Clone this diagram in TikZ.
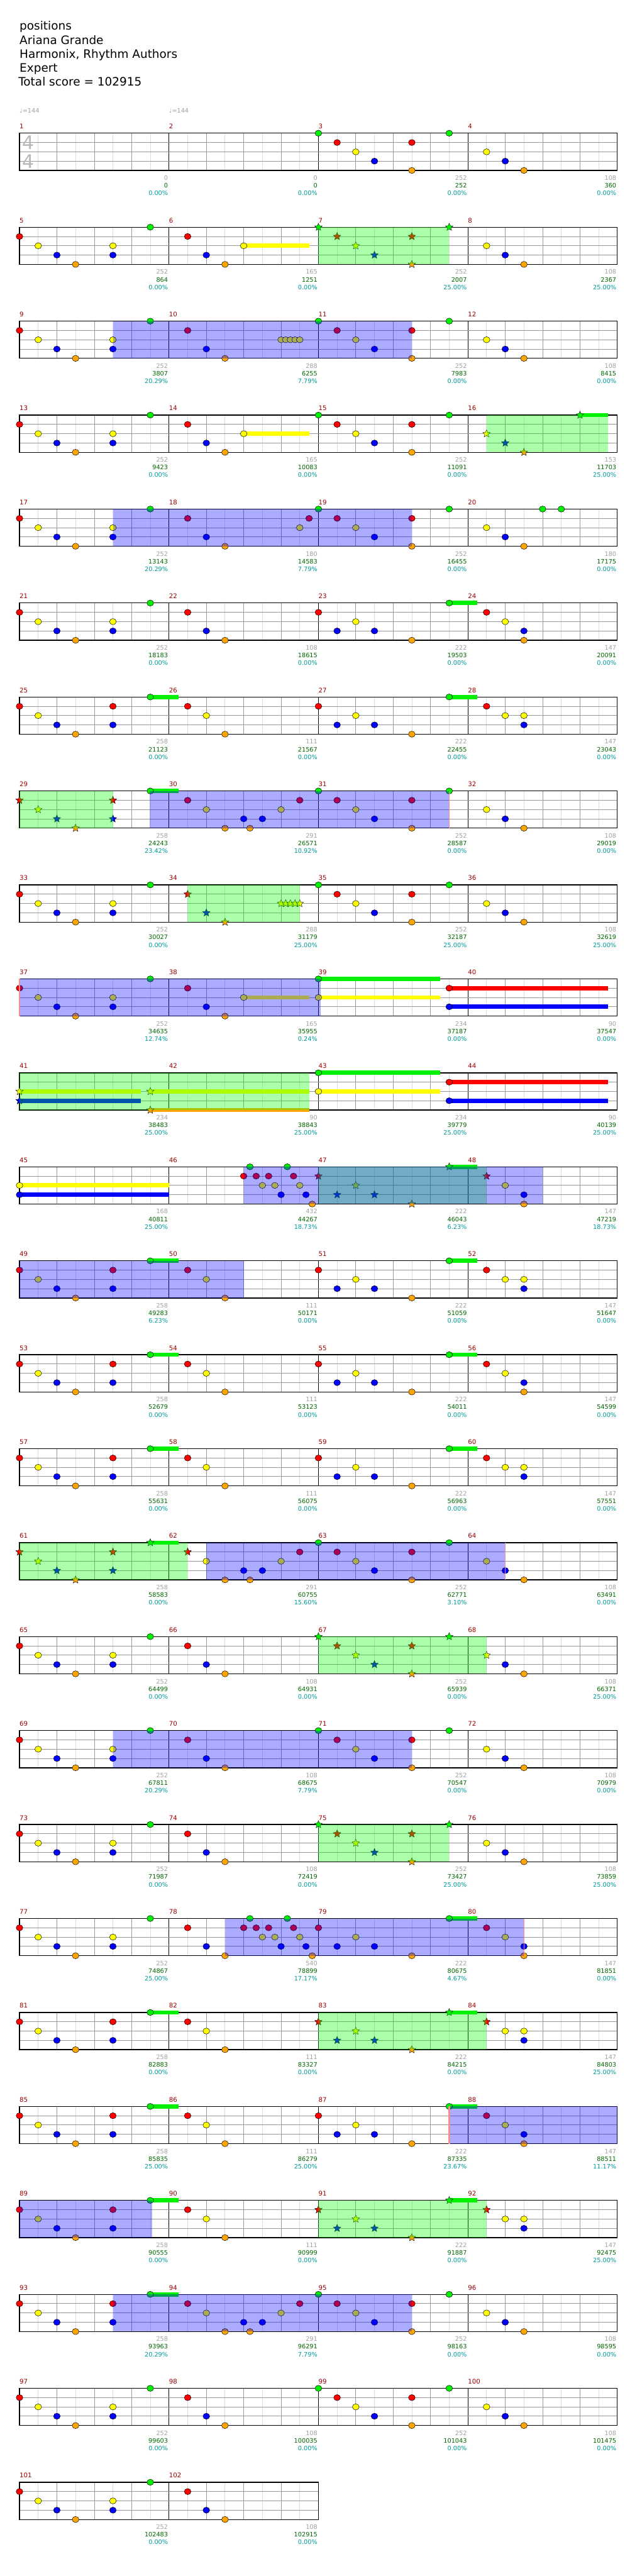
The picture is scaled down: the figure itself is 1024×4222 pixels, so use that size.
\documentclass[tikz,border=0pt]{standalone}
\usepackage{fontspec}
\setmainfont{DejaVu Sans}
\usetikzlibrary{shapes.geometric}

\definecolor{lane0}{HTML}{00F000}
\definecolor{lane1}{HTML}{FF0000}
\definecolor{lane2}{HTML}{FFFF00}
\definecolor{lane3}{HTML}{0000FF}
\definecolor{lane4}{HTML}{FFA500}
\definecolor{gridgray}{HTML}{999999}
\definecolor{gridlight}{HTML}{DDDDDD}
\definecolor{numred}{HTML}{990000}
\definecolor{numgray}{HTML}{A0A0A0}
\definecolor{numgreen}{HTML}{006400}
\definecolor{numteal}{HTML}{009999}

\newcommand{\pA}{0/1,1/2,2/3,3/4,5/2,5/3,7/0}
\newcommand{\pAA}{0/1,1/2,2/3,3/4,5/1,5/3,7/0}
\newcommand{\pB}{1/1,2/3,3/4}
\newcommand{\pBB}{1/1,2/2,3/4}
\newcommand{\pC}{0/0,1/1,2/2,3/3,5/1,5/4,7/0}
\newcommand{\pCC}{0/1,1/3,2/2,3/3,5/4,7/0}
\newcommand{\pD}{1/2,2/3,3/4}
\newcommand{\pDD}{1/1,2/2,3/3,3/4}
\newcommand{\pDDD}{1/1,2/2,3/2,3/3}
\newcommand{\yrun}{6/2,6.25/2,6.5/2,6.75/2,7/2}
\newcommand{\mixB}{2/2,3/4,4/3,4.333/4,5/3,6/2,7/1}
\newcommand{\trip}{4/1,4.333/0,4.667/1,5/2,5.333/1,5.667/2,6/3,6.333/0,6.667/1,7/2,7.333/3,7.667/4}

\newcommand{\setmeas}[1]{%
  \pgfmathtruncatemacro{\mrow}{(#1-1)/4}%
  \pgfmathtruncatemacro{\mcol}{#1-1-4*\mrow}%
  \pgfmathsetmacro{\mx}{32+245*\mcol}%
  \pgfmathsetmacro{\my}{218.33+154*\mrow}}
\newcommand{\nts}[2]{\setmeas{#1}\edef\ntlist{#2}%
  \foreach \qp/\ql in \ntlist
    {\draw[note, fill=lane\ql] (\mx+30.625*\qp, \my+15.25*\ql) ellipse [x radius=5.5pt, y radius=5pt];}}
\newcommand{\sts}[2]{\setmeas{#1}\edef\ntlist{#2}%
  \foreach \qp/\ql [count=\k] in \ntlist
    {\node[starnote, fill=lane\ql] (st#1-\k) at (\mx+30.625*\qp, \my+15.25*\ql) {};}}
\newcommand{\sus}[2]{\setmeas{#1}\edef\ntlist{#2}%
  \foreach \qp/\ql/\qe in \ntlist
    {\fill[lane\ql] (\mx+30.625*\qp, \my+15.25*\ql-3.5) rectangle (\mx+30.625*\qe, \my+15.25*\ql+3.5);}}
\newcommand{\spz}[3]{\setmeas{#1}\fill[spzone] (\mx+30.625*#2, \my) rectangle (\mx+30.625*#3, \my+61);}
\newcommand{\odz}[3]{\setmeas{#1}\fill[odzone] (\mx+30.625*#2, \my) rectangle (\mx+30.625*#3, \my+61);}
\newcommand{\actl}[3]{\setmeas{#1}\draw[actline, line width=#3] (\mx+30.625*#2, \my) -- ++(0,61);}

\begin{document}
\begin{tikzpicture}[x=1pt, y=-1pt,
    note/.style={draw=black, line width=0.5pt},
    starnote/.style={star, star points=5, star point ratio=2.2, minimum size=13pt,
                     inner sep=0pt, draw=black, line width=0.4pt},
    spzone/.style={fill=green, fill opacity=0.33},
    odzone/.style={fill=blue, fill opacity=0.33},
    actline/.style={draw=red!45},
    halfl/.style={draw=gridlight, line width=0.8pt},
    beatl/.style={draw=gridgray, line width=0.8pt},
    barl/.style={draw=black, line width=0.8pt},
    lanel/.style={draw=gridgray, line width=1pt},
    staffbox/.style={draw=black, line width=1.3pt},
    head/.style={font=\fontsize{19}{22}\selectfont, inner sep=0pt, anchor=base west},
    mnum/.style={font=\fontsize{10.5}{12}\selectfont, text=numred, inner sep=0pt, anchor=base west},
    mscore/.style={font=\fontsize{10}{12}\selectfont, inner sep=0pt, anchor=base east},
    tempo/.style={font=\fontsize{10}{12}\selectfont, text=numgray, inner sep=0pt, anchor=base west},
    tsig/.style={font=\fontsize{30.5}{32}\selectfont, text=gray!55, inner sep=0pt, anchor=base west}]
  \useasboundingbox (0,0) rectangle (1024,4222);

  \node[head] (title) at (32,49.3) {positions};
  \node[head] (artist) at (32,72.2) {Ariana Grande};
  \node[head] (charter) at (32,95) {Harmonix, Rhythm Authors};
  \node[head] (level) at (32,117.8) {Expert};
  \node[head] (total) at (30,140.6) {Total score = 102915};

  \foreach \rw in {0,...,25}{
    \pgfmathtruncatemacro{\nm}{\rw==25 ? 2 : 4}
    \pgfmathsetmacro{\ty}{218.33+154*\rw}
    \pgfmathsetmacro{\xr}{32+245*\nm}
    \pgfmathtruncatemacro{\nhalf}{8*\nm-1}
    \pgfmathtruncatemacro{\nquart}{4*\nm-1}
    \pgfmathtruncatemacro{\nbar}{\nm-1}
    \foreach \j in {1,3,...,\nhalf} \draw[halfl] (32+30.625*\j, \ty) -- ++(0,61);
    \foreach \j in {1,...,\nquart} \draw[beatl] (32+61.25*\j, \ty) -- ++(0,61);
    \foreach \j in {1,...,\nbar} \draw[barl] (32+245*\j, \ty) -- ++(0,61);
    \foreach \k in {1,2,3} \draw[lanel] (32, \ty+15.25*\k) -- (\xr, \ty+15.25*\k);
    \draw[staffbox] (32,\ty) rectangle (\xr,\ty+61);
  }

  \node[tempo] (bpm1) at (32,185) {♩=144};
  \node[tempo] (bpm2) at (277,185) {♩=144};
  \node[tsig] (tsup) at (36.7,245) {4};
  \node[tsig] (tsdown) at (36.7,276) {4};

  \sus{6}{4/2/7.5} \sus{14}{4/2/7.5} \sus{38}{4/2/7.5} \sus{16}{6/0/7.5}
  \foreach \M in {23,25,27,29,47,49,51,53,55,57,59,61,79,81,83,85,87,89,91,93}
    {\sus{\M}{7/0/8.5}}
  \sus{39}{0/0/6.5,0/2/6.5,7/1/15.5,7/3/15.5}
  \sus{41}{0/2/6.5,0/3/6.5,7/2/15.5,7/4/15.5}
  \sus{43}{0/0/6.5,0/2/6.5,7/1/15.5,7/3/15.5}
  \sus{45}{0/2/8,0/3/8}

  \nts{3}{\pC} \nts{4}{\pD}
  \nts{5}{\pA} \nts{6}{\pB,4/2} \sts{7}{\pC} \nts{8}{\pD}
  \nts{9}{\pA} \nts{10}{\pB,\yrun} \nts{11}{\pC} \nts{12}{\pD}
  \nts{13}{\pA} \nts{14}{\pB,4/2} \nts{15}{\pC} \sts{16}{\pD,6/0}
  \nts{17}{\pA} \nts{18}{\pB,7/2,7.5/1} \nts{19}{\pC} \nts{20}{\pD,4/0,5/0}
  \nts{21}{\pA} \nts{22}{\pB} \nts{23}{\pCC} \nts{24}{\pDD}
  \nts{25}{\pAA} \nts{26}{\pBB} \nts{27}{\pCC} \nts{28}{\pDDD}
  \sts{29}{0/1,1/2,2/3,3/4,5/1,5/3} \nts{29}{7/0} \nts{30}{1/1,\mixB} \nts{31}{\pC} \nts{32}{\pD}
  \nts{33}{\pA} \sts{34}{\pB,\yrun} \nts{35}{\pC} \nts{36}{\pD}
  \nts{37}{\pA} \nts{38}{\pB,4/2} \nts{39}{0/0,0/2,7/1,7/3}
  \sts{41}{0/2,0/3,7/2,7/4} \nts{43}{0/0,0/2,7/1,7/3}
  \nts{45}{0/2,0/3} \nts{46}{\trip} \sts{47}{\pCC} \sts{48}{1/1} \nts{48}{2/2,3/3,3/4}
  \nts{49}{\pAA} \nts{50}{\pBB} \nts{51}{\pCC} \nts{52}{\pDDD}
  \nts{53}{\pAA} \nts{54}{\pBB} \nts{55}{\pCC} \nts{56}{\pDD}
  \nts{57}{\pAA} \nts{58}{\pBB} \nts{59}{\pCC} \nts{60}{\pDDD}
  \sts{61}{\pAA} \sts{62}{1/1} \nts{62}{\mixB} \nts{63}{\pC} \nts{64}{\pD}
  \nts{65}{\pA} \nts{66}{\pB} \sts{67}{\pC} \sts{68}{1/2} \nts{68}{2/3,3/4}
  \nts{69}{\pA} \nts{70}{\pB} \nts{71}{\pC} \nts{72}{\pD}
  \nts{73}{\pA} \nts{74}{\pB} \sts{75}{\pC} \nts{76}{\pD}
  \nts{77}{\pA} \nts{78}{\pB,\trip} \nts{79}{\pCC} \nts{80}{\pDD}
  \nts{81}{\pAA} \nts{82}{\pBB} \sts{83}{\pCC} \sts{84}{1/1} \nts{84}{2/2,3/2,3/3}
  \nts{85}{\pAA} \nts{86}{\pBB} \nts{87}{\pCC} \nts{88}{\pDD}
  \nts{89}{\pAA} \nts{90}{\pBB} \sts{91}{\pCC} \sts{92}{1/1} \nts{92}{2/2,3/2,3/3}
  \nts{93}{\pAA} \nts{94}{1/1,\mixB} \nts{95}{\pC} \nts{96}{\pD}
  \nts{97}{\pA} \nts{98}{\pB} \nts{99}{\pC} \nts{100}{\pD}
  \nts{101}{\pA} \nts{102}{\pB}

  \spz{7}{0}{7} \spz{16}{1}{7.5} \spz{29}{0}{5} \spz{34}{1}{7} \spz{41}{0}{15.5}
  \spz{47}{0}{9} \spz{61}{0}{9} \spz{67}{0}{9} \spz{75}{0}{7} \spz{83}{0}{9} \spz{91}{0}{9}
  \odz{9}{5}{21} \odz{17}{5}{21} \odz{29}{6.95}{23} \odz{37}{0}{16.13} \odz{46}{4}{20}
  \odz{49}{0}{12} \odz{62}{2}{18} \odz{69}{5}{21} \odz{78}{3}{19} \odz{87}{7}{16}
  \odz{89}{0}{7.1} \odz{93}{5}{21}
  \actl{37}{0}{1.5pt} \actl{31}{7}{1.5pt} \actl{64}{2}{1.5pt} \actl{80}{3}{1.5pt} \actl{87}{7}{2.5pt}

  \foreach \M/\vs/\vc/\vp in {1/0/0/0.00, 2/0/0/0.00, 3/252/252/0.00, 4/108/360/0.00,
      5/252/864/0.00, 6/165/1251/0.00, 7/252/2007/25.00, 8/108/2367/25.00,
      9/252/3807/20.29, 10/288/6255/7.79, 11/252/7983/0.00, 12/108/8415/0.00,
      13/252/9423/0.00, 14/165/10083/0.00, 15/252/11091/0.00, 16/153/11703/25.00,
      17/252/13143/20.29, 18/180/14583/7.79, 19/252/16455/0.00, 20/180/17175/0.00,
      21/252/18183/0.00, 22/108/18615/0.00, 23/222/19503/0.00, 24/147/20091/0.00,
      25/258/21123/0.00, 26/111/21567/0.00, 27/222/22455/0.00, 28/147/23043/0.00,
      29/258/24243/23.42, 30/291/26571/10.92, 31/252/28587/0.00, 32/108/29019/0.00,
      33/252/30027/0.00, 34/288/31179/25.00, 35/252/32187/25.00, 36/108/32619/25.00,
      37/252/34635/12.74, 38/165/35955/0.24, 39/234/37187/0.00, 40/90/37547/0.00,
      41/234/38483/25.00, 42/90/38843/25.00, 43/234/39779/25.00, 44/90/40139/25.00,
      45/168/40811/25.00, 46/432/44267/18.73, 47/222/46043/6.23, 48/147/47219/18.73,
      49/258/49283/6.23, 50/111/50171/0.00, 51/222/51059/0.00, 52/147/51647/0.00,
      53/258/52679/0.00, 54/111/53123/0.00, 55/222/54011/0.00, 56/147/54599/0.00,
      57/258/55631/0.00, 58/111/56075/0.00, 59/222/56963/0.00, 60/147/57551/0.00,
      61/258/58583/0.00, 62/291/60755/15.60, 63/252/62771/3.10, 64/108/63491/0.00,
      65/252/64499/0.00, 66/108/64931/0.00, 67/252/65939/0.00, 68/108/66371/25.00,
      69/252/67811/20.29, 70/108/68675/7.79, 71/252/70547/0.00, 72/108/70979/0.00,
      73/252/71987/0.00, 74/108/72419/0.00, 75/252/73427/25.00, 76/108/73859/25.00,
      77/252/74867/25.00, 78/540/78899/17.17, 79/222/80675/4.67, 80/147/81851/0.00,
      81/258/82883/0.00, 82/111/83327/0.00, 83/222/84215/0.00, 84/147/84803/25.00,
      85/258/85835/25.00, 86/111/86279/25.00, 87/222/87335/23.67, 88/147/88511/11.17,
      89/258/90555/0.00, 90/111/90999/0.00, 91/222/91887/0.00, 92/147/92475/25.00,
      93/258/93963/20.29, 94/291/96291/7.79, 95/252/98163/0.00, 96/108/98595/0.00,
      97/252/99603/0.00, 98/108/100035/0.00, 99/252/101043/0.00, 100/108/101475/0.00,
      101/252/102483/0.00, 102/108/102915/0.00}{
    \setmeas{\M}
    \node[mnum] (mn\M) at (\mx, \my-7.3) {\M};
    \node[mscore, text=numgray] (sc\M) at (\mx+243.5, \my+77) {\vs};
    \node[mscore, text=numgreen] (cu\M) at (\mx+243.5, \my+89.5) {\vc};
    \node[mscore, text=numteal] (pc\M) at (\mx+243.5, \my+102) {\vp\%};
  }
\end{tikzpicture}
\end{document}
